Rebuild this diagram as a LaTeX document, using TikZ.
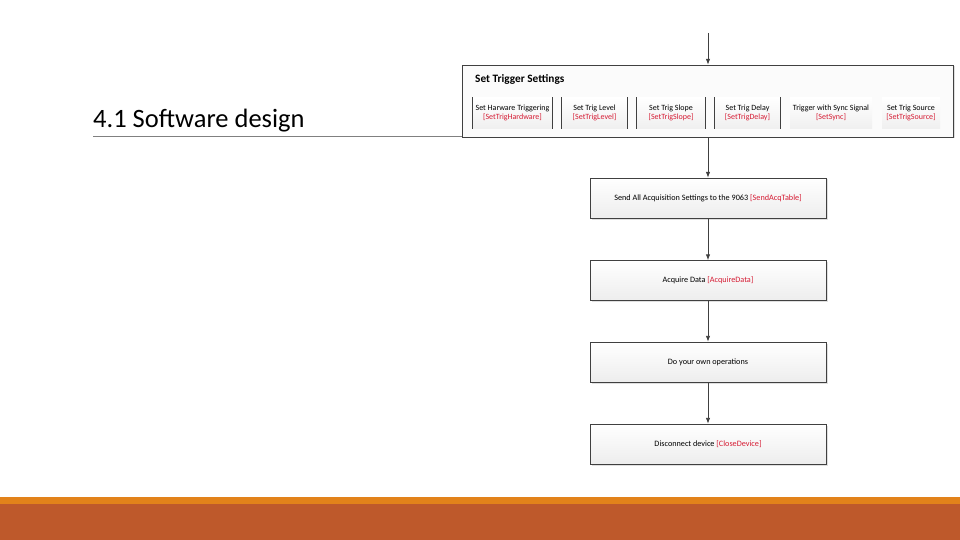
\documentclass[tikz,border=0pt]{standalone}
\usepackage{fontspec}
\setmainfont{Carlito}
\usetikzlibrary{arrows.meta,shadows}
\definecolor{rust}{RGB}{190,89,43}
\definecolor{amber}{RGB}{226,130,26}
\definecolor{fnred}{RGB}{214,28,52}
\definecolor{edge}{RGB}{64,64,64}

\begin{document}
\begin{tikzpicture}[x=1pt,y=-1pt,
  stepbox/.style={draw=edge, top color=white, bottom color=gray!14,
    minimum width=236pt, minimum height=40pt, inner sep=0pt,
    font=\fontsize{8.2}{9}\selectfont,
    drop shadow={opacity=0.25,shadow xshift=1.5pt,shadow yshift=-1.5pt}},
  fieldbox/.style={top color=white, bottom color=gray!12, minimum height=31pt,
    inner sep=0pt, align=center, font=\fontsize{8}{9.5}\selectfont},
  flow/.style={draw=edge, line width=0.9pt, -{Latex[length=6pt,width=4.5pt]}}]
\useasboundingbox (0,0) rectangle (960,540);

% Slide title
\node[anchor=base west, inner sep=0pt, font=\fontsize{26.5}{30}\selectfont] (title) at (93,128) {4.1 Software design};
\draw[gray, line width=0.8pt] (93,136) -- (462,136);

% Trigger settings group
\node[draw=edge, fill=gray!3, minimum width=491pt, minimum height=72pt, inner sep=0pt,
  drop shadow={opacity=0.25,shadow xshift=1.5pt,shadow yshift=-1.5pt}] (trig) at (707.5,101) {};
\node[anchor=west, inner sep=0pt, font=\bfseries\fontsize{11.3}{12}\selectfont] (trigtitle) at (475,79) {Set Trigger Settings};

% Fields
\node[fieldbox, minimum width=79pt] (hard) at (512.5,113) {Set Harware Triggering\\{\color{fnred}[SetTrigHardware]}};
\node[fieldbox, minimum width=65pt] (level) at (594.5,113) {Set Trig Level\\{\color{fnred}[SetTrigLevel]}};
\node[fieldbox, minimum width=68pt] (slope) at (671,113) {Set Trig Slope\\{\color{fnred}[SetTrigSlope]}};
\node[fieldbox, minimum width=65pt] (delay) at (747.5,113) {Set Trig Delay\\{\color{fnred}[SetTrigDelay]}};
\node[fieldbox, minimum width=82pt] (sync) at (831,113) {Trigger with Sync Signal\\{\color{fnred}[SetSync]}};
\node[fieldbox, minimum width=58pt] (source) at (911,113) {Set Trig Source\\{\color{fnred}[SetTrigSource]}};
\foreach \f in {hard,level,slope,delay}{
  \draw[edge, line width=0.7pt] (\f.north west) -- (\f.south west);
  \draw[edge, line width=0.7pt] (\f.north east) -- (\f.south east);
}

% Steps
\node[stepbox] (send) at (708,198) {Send All Acquisition Settings to the 9063 {\color{fnred}[SendAcqTable]}};
\node[stepbox] (acq) at (708,280.5) {Acquire Data {\color{fnred}[AcquireData]}};
\node[stepbox] (own) at (708,362) {Do your own operations};
\node[stepbox] (close) at (708,444) {Disconnect device {\color{fnred}[CloseDevice]}};

% Arrows
\coordinate (start) at (708,33);
\draw[flow] (start) -- (trig.north -| start);
\draw[flow] (trig.south -| send) -- (send);
\draw[flow] (send) -- (acq);
\draw[flow] (acq) -- (own);
\draw[flow] (own) -- (close);

% Footer bars
\fill[amber] (0,497) rectangle (960,504);
\fill[rust] (0,504) rectangle (960,540);
\end{tikzpicture}
\end{document}
